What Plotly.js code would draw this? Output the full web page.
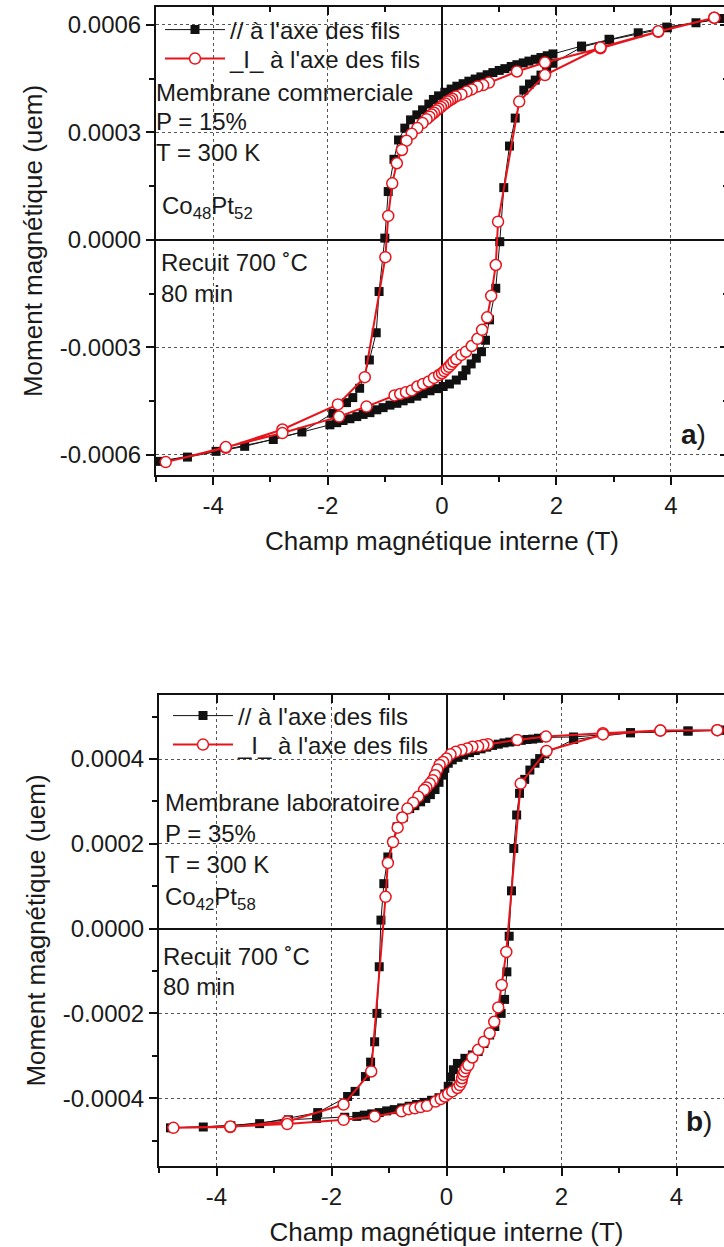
<!DOCTYPE html>
<html>
<head>
<meta charset="utf-8">
<script src="https://cdn.plot.ly/plotly-3.0.1.min.js"></script>
<style>
html,body{margin:0;padding:0;overflow:hidden;background:#fff;}
#chart{width:800px;height:1247px;}
</style>
</head>
<body>
<div id="chart"></div>
<script>
// ---------- DATA ----------
const seriesNames = ["// à l'axe des fils", "_I_ à l'axe des fils"];

// Panel a) : // (parallel) - descending branch then ascending branch
const aParH = [4.88,4.44,3.93,3.43,2.92,2.44,1.94,1.84,1.73,1.63,1.52,1.42,1.31,1.21,1.10,1.00,0.89,0.79,0.68,0.58,0.47,0.37,0.26,0.16,0.05,-0.06,-0.15,-0.23,-0.34,-0.44,-0.55,-0.65,-0.76,-0.84,-0.94,-1.00,-1.10,-1.15,-1.27,-1.44,-1.56,-1.67,-1.91,-2.45,-3.45,-4.45,-4.95,
  -3.95,-2.95,-1.96,-1.84,-1.73,-1.61,-1.49,-1.38,-1.26,-1.14,-1.03,-0.91,-0.79,-0.68,-0.56,-0.44,-0.33,-0.21,-0.09,0.02,0.13,0.25,0.36,0.42,0.51,0.60,0.69,0.76,0.83,0.94,1.01,1.08,1.18,1.28,1.43,1.53,1.63,1.73,1.83,1.94,2.44,2.93,3.94,4.90];
const aParM = [0.000618,0.000606,0.000594,0.000578,0.000560,0.000541,0.000519,0.000514,0.000509,0.000504,0.000499,0.000494,0.000489,0.000484,0.000478,0.000473,0.000467,0.000461,0.000455,0.000449,0.000443,0.000436,0.000429,0.000421,0.000412,0.000402,0.000392,0.000379,0.000363,0.000349,0.000335,0.000312,0.000279,0.000225,0.000135,0.000005,-0.000144,-0.000259,-0.000335,-0.000414,-0.000440,-0.000454,-0.000484,-0.000536,-0.000576,-0.000606,-0.000618,
  -0.000590,-0.000557,-0.000516,-0.000510,-0.000504,-0.000499,-0.000493,-0.000487,-0.000482,-0.000474,-0.000468,-0.000461,-0.000456,-0.000449,-0.000443,-0.000436,-0.000429,-0.000421,-0.000415,-0.000409,-0.000402,-0.000391,-0.000379,-0.000363,-0.000346,-0.000330,-0.000312,-0.000280,-0.000223,-0.000135,-0.000005,0.000146,0.000262,0.000340,0.000418,0.000435,0.000446,0.000460,0.000474,0.000493,0.000538,0.000558,0.000592,0.000618];

// Panel a) : _I_ (perpendicular)
const aPerpH = [4.76,3.78,2.77,1.80,1.31,0.82,0.72,0.62,0.52,0.43,0.34,0.24,0.18,0.14,0.10,0.06,0.02,-0.02,-0.06,-0.10,-0.14,-0.18,-0.22,-0.27,-0.34,-0.43,-0.53,-0.62,-0.70,-0.79,-0.87,-0.94,-0.99,-1.35,-1.82,-2.79,-3.78,-4.83,
  -3.78,-2.79,-1.80,-1.32,-0.83,-0.73,-0.63,-0.53,-0.43,-0.33,-0.23,-0.14,-0.05,0.00,0.04,0.08,0.12,0.16,0.20,0.25,0.34,0.42,0.52,0.62,0.70,0.79,0.86,0.94,0.98,1.35,1.80,2.77,3.78,4.76];
const aPerpM = [0.000620,0.000581,0.000535,0.000495,0.000470,0.000439,0.000432,0.000428,0.000420,0.000414,0.000406,0.000400,0.000394,0.000390,0.000386,0.000381,0.000376,0.000371,0.000366,0.000361,0.000355,0.000350,0.000344,0.000337,0.000326,0.000312,0.000296,0.000277,0.000251,0.000214,0.000158,0.000067,-0.000048,-0.000383,-0.000459,-0.000529,-0.000580,-0.000620,
  -0.000578,-0.000539,-0.000493,-0.000465,-0.000434,-0.000430,-0.000425,-0.000420,-0.000409,-0.000402,-0.000395,-0.000385,-0.000377,-0.000372,-0.000366,-0.000360,-0.000354,-0.000347,-0.000340,-0.000333,-0.000321,-0.000312,-0.000296,-0.000276,-0.000251,-0.000216,-0.000156,-0.000070,0.000051,0.000386,0.000460,0.000537,0.000582,0.000620];

// Panel b) : // (parallel)
const bParH = [4.85,4.20,3.20,2.21,1.71,1.60,1.50,1.40,1.30,1.20,1.10,1.00,0.90,0.80,0.70,0.60,0.50,0.40,0.30,0.20,0.10,0.03,-0.03,-0.08,-0.13,-0.20,-0.28,-0.36,-0.45,-0.55,-0.64,-0.75,-0.86,-0.94,-1.02,-1.09,-1.14,-1.17,-1.21,-1.25,-1.32,-1.41,-1.59,-1.72,-2.24,-3.25,-4.23,-4.80,
  -3.75,-2.75,-2.26,-1.77,-1.56,-1.43,-1.30,-1.17,-1.04,-0.91,-0.78,-0.65,-0.52,-0.39,-0.26,-0.13,-0.03,0.03,0.07,0.12,0.19,0.32,0.45,0.55,0.65,0.75,0.84,0.95,1.01,1.05,1.09,1.13,1.17,1.22,1.27,1.36,1.45,1.54,1.62,1.71,2.21,3.20,4.20,4.85];
const bParM = [0.000468,0.000466,0.000462,0.000452,0.000451,0.000449,0.000447,0.000446,0.000444,0.000442,0.000440,0.000438,0.000435,0.000432,0.000428,0.000424,0.000420,0.000415,0.000410,0.000404,0.000398,0.000390,0.000378,0.000362,0.000345,0.000328,0.000316,0.000307,0.000299,0.000290,0.000283,0.000263,0.000240,0.000204,0.000169,0.000106,0.000020,-0.000090,-0.000200,-0.000267,-0.000315,-0.000349,-0.000384,-0.000396,-0.000434,-0.000460,-0.000468,-0.000470,
  -0.000465,-0.000451,-0.000448,-0.000445,-0.000443,-0.000440,-0.000437,-0.000434,-0.000430,-0.000427,-0.000423,-0.000419,-0.000415,-0.000410,-0.000405,-0.000399,-0.000390,-0.000372,-0.000350,-0.000333,-0.000318,-0.000306,-0.000298,-0.000290,-0.000271,-0.000251,-0.000231,-0.000200,-0.000167,-0.000102,-0.000018,0.000089,0.000189,0.000268,0.000319,0.000352,0.000374,0.000390,0.000401,0.000412,0.000446,0.000462,0.000466,0.000468];

// Panel b) : _I_ (perpendicular)
const bPerpH = [4.71,3.72,2.72,1.73,1.23,0.72,0.64,0.55,0.45,0.36,0.26,0.16,0.07,0.00,-0.06,-0.12,-0.16,-0.20,-0.24,-0.29,-0.35,-0.39,-0.49,-0.58,-0.68,-0.77,-0.85,-0.93,-1.02,-1.06,-1.31,-1.79,-2.77,-3.76,-4.75,
  -3.76,-2.77,-1.79,-1.25,-0.78,-0.66,-0.55,-0.45,-0.34,-0.19,-0.10,-0.03,0.03,0.10,0.19,0.23,0.26,0.27,0.29,0.31,0.34,0.38,0.45,0.55,0.65,0.75,0.83,0.90,0.96,1.04,1.29,1.74,2.72,3.72,4.71];
const bPerpM = [0.000468,0.000467,0.000461,0.000453,0.000445,0.000435,0.000433,0.000430,0.000429,0.000425,0.000421,0.000417,0.000411,0.000401,0.000393,0.000386,0.000375,0.000362,0.000350,0.000342,0.000333,0.000327,0.000311,0.000297,0.000283,0.000262,0.000238,0.000204,0.000155,0.000075,-0.000337,-0.000415,-0.000455,-0.000468,-0.000470,
  -0.000467,-0.000461,-0.000451,-0.000443,-0.000431,-0.000426,-0.000424,-0.000421,-0.000418,-0.000408,-0.000402,-0.000396,-0.000390,-0.000384,-0.000376,-0.000369,-0.000361,-0.000353,-0.000345,-0.000337,-0.000329,-0.000322,-0.000304,-0.000286,-0.000267,-0.000247,-0.000220,-0.000186,-0.000133,-0.000055,0.000342,0.000419,0.000458,0.000467,0.000468];

// Tick labels
const xTickVals = [-4,-2,0,2,4];
const xTickText = ["-4","-2","0","2","4"];
const xMinorVals = [-5,-3,-1,1,3,5];
const yTickValsA = [-0.0006,-0.0003,0,0.0003,0.0006];
const yTickTextA = ["-0.0006","-0.0003","0.0000","0.0003","0.0006"];
const yMinorValsA = [-0.00045,-0.00015,0.00015,0.00045];
const yTickValsB = [-0.0004,-0.0002,0,0.0002,0.0004];
const yTickTextB = ["-0.0004","-0.0002","0.0000","0.0002","0.0004"];
const yMinorValsB = [-0.0005,-0.0003,-0.0001,0.0001,0.0003,0.0005];

const xTitle = "Champ magnétique interne (T)";
const yTitle = "Moment magnétique (uem)";
const notesA = ["Membrane commerciale","P = 15%","T = 300 K","Co<sub>48</sub>Pt<sub>52</sub>","Recuit 700 ˚C","80 min"];
const notesB = ["Membrane laboratoire","P = 35%","T = 300 K","Co<sub>42</sub>Pt<sub>58</sub>","Recuit 700 ˚C","80 min"];

// ---------- LAYOUT ----------
const W = 800, H = 1247;
const FONT = "Liberation Sans, Arial, Helvetica, sans-serif";
const TXT = "#1a1a1a";
const fx = p => p / W;
const fy = p => 1 - p / H;

function blackTrace(x, y, xa, ya, lg) {
  return {x: x, y: y, xaxis: xa, yaxis: ya, legend: lg, name: seriesNames[0], type: 'scatter', mode: 'lines+markers',
    line: {color: '#111', width: 1}, marker: {symbol: 'square', size: 9, color: '#111'}, hoverinfo: 'x+y'};
}
function redTrace(x, y, xa, ya, lg) {
  return {x: x, y: y, xaxis: xa, yaxis: ya, legend: lg, name: seriesNames[1], type: 'scatter', mode: 'lines+markers',
    line: {color: '#e8141c', width: 2}, marker: {symbol: 'circle', size: 11, color: '#ffffff', line: {color: '#e8141c', width: 1.5}}, hoverinfo: 'x+y'};
}
function dummy(xa, ya) {
  return {x: [], y: [], xaxis: xa, yaxis: ya, type: 'scatter', mode: 'markers', showlegend: false, hoverinfo: 'skip'};
}

const traces = [
  blackTrace(aParH, aParM, 'x', 'y', 'legend'),
  redTrace(aPerpH, aPerpM, 'x', 'y', 'legend3'),
  blackTrace(bParH, bParM, 'x2', 'y2', 'legend2'),
  redTrace(bPerpH, bPerpM, 'x2', 'y2', 'legend4'),
  dummy('x3', 'y3'),
  dummy('x4', 'y4')
];

function mainX(domain, anchor) {
  return {
    domain: domain, anchor: anchor, range: [-5, 5],
    tickmode: 'array', tickvals: xTickVals, ticktext: xTickText,
    ticks: 'outside', ticklen: 8, tickwidth: 2, tickcolor: '#111',
    minor: {tickmode: 'array', tickvals: xMinorVals, ticks: 'outside', ticklen: 5, tickwidth: 2, tickcolor: '#111', showgrid: false},
    showline: true, linewidth: 2, linecolor: '#111', mirror: true,
    showgrid: true, gridcolor: '#555', griddash: 'dot', gridwidth: 1,
    zeroline: true, zerolinecolor: '#111', zerolinewidth: 2,
    tickfont: {size: 24, color: TXT, family: FONT},
    title: {text: xTitle, font: {size: 26, color: TXT, family: FONT}, standoff: 14},
    fixedrange: true
  };
}
function mainY(domain, anchor, range, vals, text, minor) {
  return {
    domain: domain, anchor: anchor, range: range,
    tickmode: 'array', tickvals: vals, ticktext: text,
    ticks: 'outside', ticklen: 8, tickwidth: 2, tickcolor: '#111',
    minor: {tickmode: 'array', tickvals: minor, ticks: 'outside', ticklen: 5, tickwidth: 2, tickcolor: '#111', showgrid: false},
    showline: true, linewidth: 2, linecolor: '#111', mirror: true,
    showgrid: true, gridcolor: '#555', griddash: 'dot', gridwidth: 1,
    zeroline: true, zerolinecolor: '#111', zerolinewidth: 2,
    tickfont: {size: 24, color: TXT, family: FONT}, ticklabelstandoff: 0,
    title: {text: yTitle, font: {size: 26, color: TXT, family: FONT}, standoff: 10},
    fixedrange: true
  };
}
function mirrorX(over, anchor) {
  return {overlaying: over, anchor: anchor, side: 'top', range: [-5, 5],
    tickmode: 'array', tickvals: xTickVals, ticks: 'inside', ticklen: 8, tickwidth: 2, tickcolor: '#111',
    minor: {tickmode: 'array', tickvals: xMinorVals, ticks: 'inside', ticklen: 5, tickwidth: 2, tickcolor: '#111', showgrid: false},
    showticklabels: false, showgrid: false, zeroline: false, showline: false, fixedrange: true};
}
function mirrorY(over, anchor, range, vals, minor) {
  return {overlaying: over, anchor: anchor, side: 'right', range: range,
    tickmode: 'array', tickvals: vals, ticks: 'inside', ticklen: 8, tickwidth: 2, tickcolor: '#111',
    minor: {tickmode: 'array', tickvals: minor, ticks: 'inside', ticklen: 5, tickwidth: 2, tickcolor: '#111', showgrid: false},
    showticklabels: false, showgrid: false, zeroline: false, showline: false, fixedrange: true};
}

const rangeA = [-0.000656, 0.00065];
const rangeB = [-0.00056, 0.000551];
const domXA = [fx(156), fx(728)], domYA = [fy(475), fy(7)];
const domXB = [fx(159), fx(734)], domYB = [fy(1166), fy(695)];

function note(text, x, y, size, anchor) {
  return {text: text, xref: 'paper', yref: 'paper', x: fx(x), y: fy(y), xanchor: anchor || 'left', yanchor: 'middle',
    showarrow: false, font: {size: size || 24, color: TXT, family: FONT}};
}

const annotations = [
  note(notesA[0], 154, 92), note(notesA[1], 154, 122), note(notesA[2], 154, 153),
  note(notesA[3], 160, 207), note(notesA[4], 159, 262), note(notesA[5], 159, 293),
  note('<b>a</b>)', 708, 435, 28, 'right'),
  note(notesB[0], 163, 802), note(notesB[1], 163, 833), note(notesB[2], 163, 864),
  note(notesB[3], 163, 898), note(notesB[4], 161, 956), note(notesB[5], 161, 987),
  note('<b>b</b>)', 714, 1121, 28, 'right')
];

function leg(x, y) {
  return {x: fx(x), y: fy(y), xanchor: 'left', yanchor: 'middle', bgcolor: 'rgba(0,0,0,0)', borderwidth: 0,
    font: {size: 24, color: TXT, family: FONT}, itemwidth: 60, tracegroupgap: 0};
}

const layout = {
  width: W, height: H,
  margin: {l: 0, r: 0, t: 0, b: 0},
  paper_bgcolor: '#fff', plot_bgcolor: 'rgba(0,0,0,0)',
  font: {family: FONT, color: TXT, size: 24},
  xaxis: mainX(domXA, 'y'),
  yaxis: mainY(domYA, 'x', rangeA, yTickValsA, yTickTextA, yMinorValsA),
  xaxis2: mainX(domXB, 'y2'),
  yaxis2: mainY(domYB, 'x2', rangeB, yTickValsB, yTickTextB, yMinorValsB),
  xaxis3: mirrorX('x', 'y3'),
  yaxis3: mirrorY('y', 'x3', rangeA, yTickValsA, yMinorValsA),
  xaxis4: mirrorX('x2', 'y4'),
  yaxis4: mirrorY('y2', 'x4', rangeB, yTickValsB, yMinorValsB),
  legend: leg(160, 30),
  legend3: leg(160, 59),
  legend2: leg(168, 716),
  legend4: leg(168, 745),
  showlegend: true,
  annotations: annotations
};

Plotly.newPlot('chart', traces, layout, {displayModeBar: false, staticPlot: true});
</script>
</body>
</html>
